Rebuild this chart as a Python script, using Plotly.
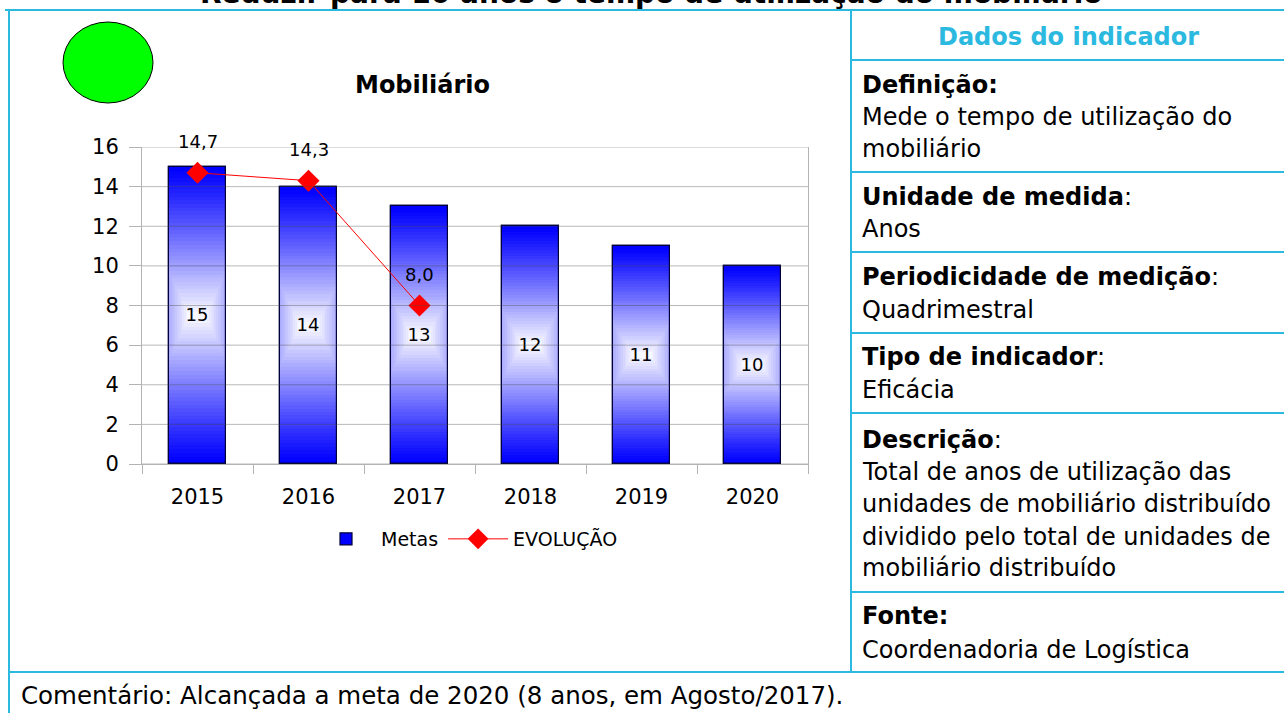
import plotly.graph_objects as go

# data
anos = ["2015", "2016", "2017", "2018", "2019", "2020"]
metas = [15, 14, 13, 12, 11, 10]
anos_evolucao = ["2015", "2016", "2017"]
evolucao = [14.7, 14.3, 8.0]
y_ticks = [0, 2, 4, 6, 8, 10, 12, 14, 16]

titulo = "Reduzir para 10 anos o tempo de utilização do mobiliário"
comentario = "Comentário: Alcançada a meta de 2020 (8 anos, em Agosto/2017)."

# right panel: (text, bold part, pixel y of text center)
painel = [
    ("Definição:", True, 85),
    ("Mede o tempo de utilização do", False, 117),
    ("mobiliário", False, 149),
    ("Unidade de medida|:", True, 197),
    ("Anos", False, 229),
    ("Periodicidade de medição|:", True, 277),
    ("Quadrimestral", False, 310),
    ("Tipo de indicador|:", True, 357),
    ("Eficácia", False, 390),
    ("Descrição|:", True, 440),
    ("Total de anos de utilização das", False, 472),
    ("unidades de mobiliário distribuído", False, 504),
    ("dividido pelo total de unidades de", False, 537),
    ("mobiliário distribuído", False, 568),
    ("Fonte:", True, 616),
    ("Coordenadoria de Logística", False, 650),
]

# page geometry (pixels)
W, H = 1284, 713
PX0, PX1 = 142, 808      # plot area left/right
PY_TOP, PY_BOT = 147, 464  # plot area top/bottom
CYAN = "#2cb9df"
FONT = "DejaVu Sans"


def px(x):
    return (x - PX0) / (PX1 - PX0)


def py(y):
    return (PY_BOT - y) / (PY_BOT - PY_TOP)


fig = go.Figure()

# gradient bars: nested rings from blue (edge) to white (centre)
bar_w = 0.51
n_rings = 40
for k in range(n_rings):
    f = 1 - k / n_rings
    c = int(round(255 * (1 - f) ** 1.1))
    fig.add_trace(go.Bar(
        x=anos,
        y=[v * f for v in metas],
        base=[v * (1 - f) / 2 for v in metas],
        width=min(1.0, 0.3 + 2.4 * f) * bar_w,
        marker=dict(color=f"rgb({c},{c},255)",
                    line=dict(width=1.2 if k == 0 else 0, color="#00003a")),
        name="Metas",
        showlegend=(k == 0),
        hoverinfo="skip",
    ))

# outline + value labels
fig.add_trace(go.Bar(
    x=anos, y=metas, width=bar_w,
    marker=dict(color="rgba(0,0,0,0)", line=dict(width=1.2, color="#00003a")),
    text=[str(v) for v in metas], textposition="inside",
    insidetextanchor="middle", textangle=0,
    textfont=dict(family=FONT, size=18, color="black"),
    showlegend=False, hoverinfo="skip",
))

# evolution line
fig.add_trace(go.Scatter(
    x=anos_evolucao, y=evolucao, mode="lines+markers", name="EVOLUÇÃO",
    line=dict(color="#ff0000", width=1),
    marker=dict(symbol="diamond", size=17, color="#ff0000"),
    cliponaxis=False,
))

# value labels above the points (category axes take the category index)
for a, v in zip(anos_evolucao, evolucao):
    fig.add_annotation(x=anos.index(a), y=v, xref="x", yref="y", yshift=31,
                       text=f"{v:.1f}".replace(".", ","), showarrow=False,
                       font=dict(family=FONT, size=18, color="black"))

shapes = []
# gridlines drawn above the bars
for t in y_ticks:
    shapes.append(dict(type="line", xref="paper", yref="y", x0=0, x1=1, y0=t, y1=t,
                       line=dict(color="rgba(70,70,70,0.38)", width=1), layer="above"))


def hline(y, x0, x1):
    shapes.append(dict(type="line", xref="paper", yref="paper", x0=px(x0), x1=px(x1),
                       y0=py(y), y1=py(y), line=dict(color=CYAN, width=2)))


def vline(x, y0, y1):
    shapes.append(dict(type="line", xref="paper", yref="paper", x0=px(x), x1=px(x),
                       y0=py(y0), y1=py(y1), line=dict(color=CYAN, width=2)))


hline(10, 5, W)
vline(9, 10, H)
vline(851, 10, 672)
for yy in [60, 172, 252, 333, 413, 592]:
    hline(yy, 851, W)
hline(672, 9, W)

# green status ellipse
shapes.append(dict(type="circle", xref="paper", yref="paper",
                   x0=px(63), x1=px(153), y0=py(103), y1=py(22),
                   fillcolor="#00ff00", line=dict(color="black", width=1)))

fig.update_layout(shapes=shapes)

# texts
fig.add_annotation(xref="paper", yref="paper", x=px(651), y=py(-6), xanchor="center",
                   yanchor="middle", showarrow=False, text=f"<b>{titulo}</b>",
                   font=dict(family=FONT, size=28, color="black"))
fig.add_annotation(xref="paper", yref="paper", x=px(422), y=py(85), xanchor="center",
                   yanchor="middle", showarrow=False, text="<b>Mobiliário</b>",
                   font=dict(family=FONT, size=24, color="black"))
fig.add_annotation(xref="paper", yref="paper", x=px(1068), y=py(37), xanchor="center",
                   yanchor="middle", showarrow=False, text="<b>Dados do indicador</b>",
                   font=dict(family=FONT, size=24, color=CYAN))
for texto, negrito, yy in painel:
    if negrito:
        parts = texto.split("|")
        html = f"<b>{parts[0]}</b>" + (parts[1] if len(parts) > 1 else "")
    else:
        html = texto
    fig.add_annotation(xref="paper", yref="paper", x=px(860), y=py(yy), xanchor="left",
                       yanchor="middle", showarrow=False, text=html,
                       font=dict(family=FONT, size=24, color="black"))
fig.add_annotation(xref="paper", yref="paper", x=px(19), y=py(695), xanchor="left",
                   yanchor="middle", showarrow=False, text=comentario,
                   font=dict(family=FONT, size=24.5, color="black"))

fig.update_layout(
    width=W, height=H,
    margin=dict(l=PX0, r=W - PX1, t=PY_TOP, b=H - PY_BOT, pad=0),
    paper_bgcolor="white", plot_bgcolor="white",
    barmode="overlay", bargap=0,
    font=dict(family=FONT, size=21, color="black"),
    legend=dict(orientation="h", x=px(467), y=py(539), xanchor="center", yanchor="middle",
                font=dict(family=FONT, size=19, color="black"), bgcolor="rgba(0,0,0,0)",
                traceorder="normal", itemwidth=60),
    xaxis=dict(type="category", categoryorder="array", categoryarray=anos,
               range=[-0.5, len(anos) - 0.5],
               ticks="outside", tickson="boundaries", ticklen=9, tickcolor="#b3b3b3",
               showgrid=False, showline=True, linecolor="#b3b3b3", ticklabelstandoff=14,
               tickfont=dict(size=21)),
    yaxis=dict(range=[0, 16], tickvals=y_ticks, ticks="outside", ticklen=12,
               tickcolor="#b3b3b3", showgrid=False, zeroline=False, showline=True,
               linecolor="#b3b3b3", mirror=True, ticklabelstandoff=6,
               tickfont=dict(size=21)),
)

# remove the default page margin so the figure sits at the window corner
fig.write_html("out.html", config={"displayModeBar": False},
               post_script="document.body.style.margin='0';")
